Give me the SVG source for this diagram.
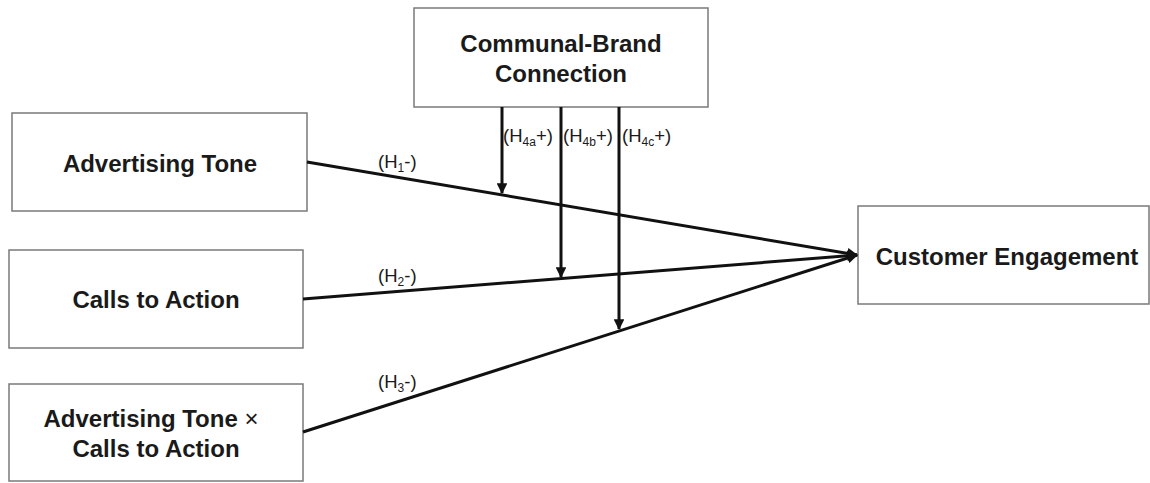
<svg xmlns="http://www.w3.org/2000/svg" width="1150" height="483" viewBox="0 0 1150 483">
  <style>
    .box { fill: #ffffff; stroke: #7a7a7a; stroke-width: 1.5; }
    .title { font-family: "Liberation Sans", Arial, sans-serif; font-weight: bold; font-size: 24px; fill: #1a1a1a; text-anchor: middle; }
    .thin { font-weight: normal; }
    .lbl { font-family: "Liberation Sans", Arial, sans-serif; font-size: 18.5px; fill: #1a1a1a; }
    .sub { font-size: 12px; }
    .edge { stroke: #111111; stroke-width: 3; fill: none; }
  </style>
  <defs>
    <marker id="arrow" viewBox="0 0 10 10" refX="9" refY="5" markerWidth="4.3" markerHeight="3.6" orient="auto" markerUnits="strokeWidth">
      <path d="M0,0 L10,5 L0,10 Z" fill="#111111"/>
    </marker>
  </defs>
  <rect width="1150" height="483" fill="#ffffff"/>

  <g id="communal-brand">
    <rect class="box" x="414" y="8" width="294" height="99"/>
    <text class="title" x="561" y="52">Communal-Brand</text>
    <text class="title" x="561" y="82">Connection</text>
  </g>

  <g id="advertising-tone">
    <rect class="box" x="12" y="113" width="295" height="98"/>
    <text class="title" x="160" y="172">Advertising Tone</text>
  </g>

  <g id="calls-to-action">
    <rect class="box" x="9" y="250" width="294" height="98"/>
    <text class="title" x="156" y="308">Calls to Action</text>
  </g>

  <g id="interaction">
    <rect class="box" x="9" y="384" width="294" height="97"/>
    <text class="title" x="151" y="427">Advertising Tone <tspan class="thin">×</tspan></text>
    <text class="title" x="156" y="457">Calls to Action</text>
  </g>

  <g id="customer-engagement">
    <rect class="box" x="858" y="206" width="291" height="98"/>
    <text class="title" x="1007" y="265">Customer Engagement</text>
  </g>

  <g id="connectors">
    <line class="edge" x1="307" y1="162" x2="857" y2="255" marker-end="url(#arrow)"/>
    <line class="edge" x1="303" y1="299" x2="857" y2="255" marker-end="url(#arrow)"/>
    <line class="edge" x1="303" y1="432" x2="857" y2="255" marker-end="url(#arrow)"/>
    <line class="edge" x1="502" y1="107" x2="502" y2="193" marker-end="url(#arrow)"/>
    <line class="edge" x1="561" y1="107" x2="561" y2="277" marker-end="url(#arrow)"/>
    <line class="edge" x1="619" y1="107" x2="619" y2="329" marker-end="url(#arrow)"/>

    <text class="lbl" x="378" y="168">(H<tspan class="sub" dy="4">1</tspan><tspan dy="-4">-)</tspan></text>
    <text class="lbl" x="378" y="282">(H<tspan class="sub" dy="4">2</tspan><tspan dy="-4">-)</tspan></text>
    <text class="lbl" x="378" y="388">(H<tspan class="sub" dy="4">3</tspan><tspan dy="-4">-)</tspan></text>
    <text class="lbl" x="503" y="142">(H<tspan class="sub" dy="4">4a</tspan><tspan dy="-4">+)</tspan></text>
    <text class="lbl" x="563" y="142">(H<tspan class="sub" dy="4">4b</tspan><tspan dy="-4">+)</tspan></text>
    <text class="lbl" x="622" y="142">(H<tspan class="sub" dy="4">4c</tspan><tspan dy="-4">+)</tspan></text>
  </g>
</svg>
